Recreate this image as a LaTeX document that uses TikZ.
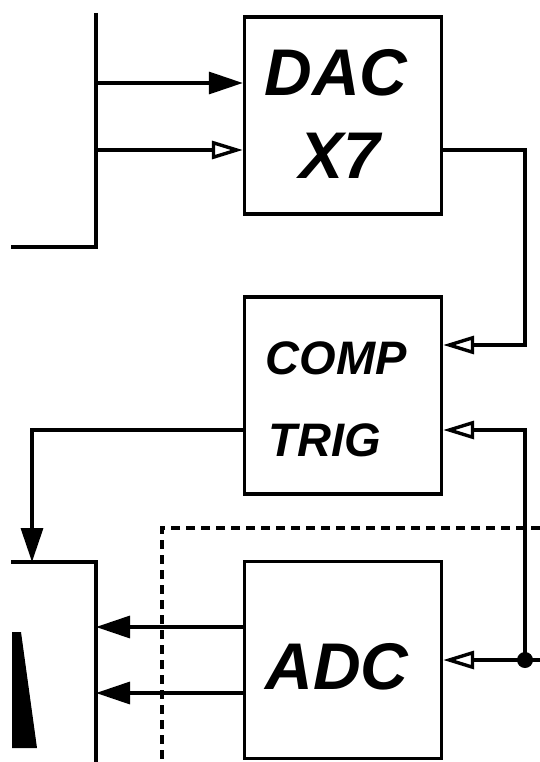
\documentclass[tikz,border=0pt]{standalone}
\usepackage{fontspec}
\setmainfont{Liberation Sans}
\usetikzlibrary{arrows.meta}
\begin{document}
\begin{tikzpicture}[x=1pt,y=-1pt,line width=3.4pt,
  box/.style={draw,line width=3.4pt,minimum width=197pt,minimum height=197pt,inner sep=0pt},
  big/.style={font=\fontsize{66}{70}\selectfont\bfseries\itshape,inner sep=0pt},
  mid/.style={font=\fontsize{47}{50}\selectfont\bfseries\itshape,inner sep=0pt},
  fillarr/.style={-{Triangle[length=34pt,width=22pt]}},
  openarr/.style={-{Triangle[open,length=31pt,width=18pt]}}]
\useasboundingbox (0,0) rectangle (540,762);
% boxes
\node[box] (dac) at (343,115.5) {};
\node[box] (comp) at (343,395.5) {};
\node[box] (adc) at (343,660) {};
% texts
\node[big] (tdac) at (336,72.5) {DAC};
\node[big] (tx7) at (340,156) {X7};
\node[mid] (tcomp) at (336,358.5) {COMP};
\node[mid] (ttrig) at (325,440.5) {TRIG};
\node[big] (tadc) at (337,666.5) {ADC};
% coordinates
\coordinate (bustop) at (96,13);
\coordinate (buscorner) at (96,247);
\coordinate (busend) at (11,247);
\coordinate (b1) at (96,83);
\coordinate (b2) at (96,150);
\coordinate (rc1) at (525,150);
\coordinate (rc2) at (525,345);
\coordinate (rt) at (525,430);
\coordinate (dot) at (525,660);
\coordinate (rend) at (540,660);
\coordinate (lc) at (32,430);
\coordinate (lt) at (32,562);
\coordinate (lbl) at (11,562);
\coordinate (lbr) at (96,562);
\coordinate (lbb) at (96,762);
\coordinate (a1) at (96,627);
\coordinate (a2) at (96,693);
\coordinate (dsr) at (540,528);
\coordinate (dsc) at (162,528);
\coordinate (dsb) at (162,762);
% bus
\draw (bustop) -- (buscorner) -- (busend);
\draw[fillarr] (b1) -- (b1 -| dac.west);
\draw[openarr] (b2) -- (b2 -| dac.west);
% DAC -> COMP
\draw[openarr] (rc1 -| dac.east) -- (rc1) -- (rc2) -- (rc2 -| comp.east);
% TRIG input
\draw[openarr] (dot) -- (rt) -- (rt -| comp.east);
\draw (dot) -- (rend);
\draw[openarr] (dot) -- (dot -| adc.east);
\fill (dot) circle (8pt);
% COMP -> left box
\draw[fillarr] (lc -| comp.west) -- (lc) -- (lt);
% left box
\draw (lbl) -- (lbr) -- (lbb);
\fill (12,632) -- (21,632) -- (37,748) -- (12,748) -- cycle;
% ADC outputs
\draw[fillarr] (a1 -| adc.west) -- (a1);
\draw[fillarr] (a2 -| adc.west) -- (a2);
% dashed
\draw[dash pattern=on 9pt off 6pt] (dsr) -- (dsc) -- (dsb);
\end{tikzpicture}
\end{document}
